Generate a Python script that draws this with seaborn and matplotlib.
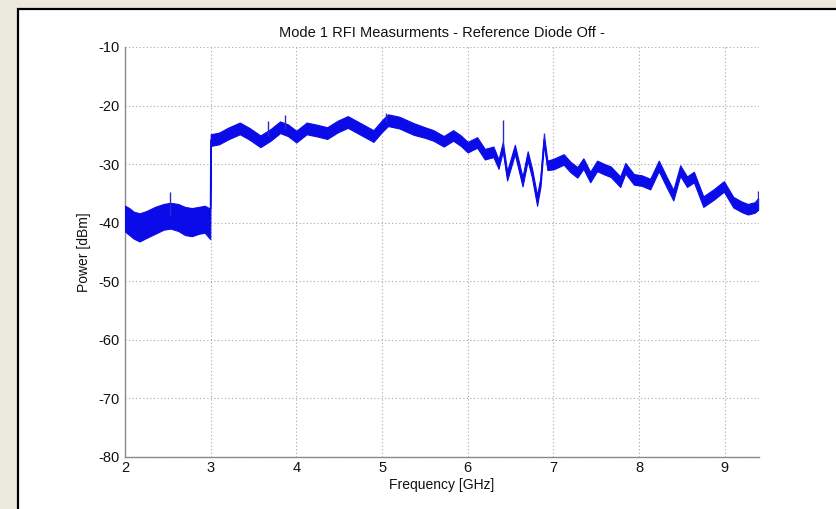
import matplotlib
matplotlib.use("Agg")
import matplotlib.pyplot as plt
from matplotlib.patches import Rectangle
import seaborn as sns
import numpy as np
import pandas as pd

# ---- data (GHz, dBm) ----
freq = [2.00, 2.05, 2.10, 2.17, 2.25, 2.35, 2.45, 2.53, 2.62, 2.70, 2.78, 2.86, 2.93, 2.995,
        3.00, 3.10, 3.20, 3.34, 3.45, 3.58, 3.70, 3.81, 3.90, 4.00, 4.12, 4.25, 4.36, 4.48,
        4.60, 4.75, 4.90, 5.00, 5.07, 5.20, 5.37, 5.50, 5.60, 5.72, 5.83, 5.92, 6.00, 6.11,
        6.20, 6.30, 6.36, 6.41, 6.46, 6.55, 6.64, 6.70, 6.75, 6.81, 6.85, 6.89, 6.93, 7.00,
        7.12, 7.20, 7.28, 7.35, 7.43, 7.51, 7.60, 7.67, 7.78, 7.84, 7.94, 8.03, 8.13, 8.23,
        8.32, 8.40, 8.48, 8.56, 8.64, 8.75, 8.87, 8.99, 9.10, 9.20, 9.27, 9.35, 9.39]
power = [-39.3, -39.8, -40.4, -40.8, -40.3, -39.6, -39.0, -38.8, -39.1, -39.7, -39.9, -39.6, -39.4, -40.2,
         -25.9, -25.6, -24.8, -23.9, -24.8, -26.1, -25.0, -23.7, -24.2, -25.3, -23.9, -24.3, -24.7, -23.6,
         -22.8, -24.0, -25.2, -23.5, -22.5, -22.9, -24.0, -24.6, -25.1, -26.1, -25.1, -26.0, -27.1, -26.3,
         -28.3, -27.9, -30.0, -27.0, -32.0, -27.5, -33.0, -28.6, -31.5, -36.2, -33.0, -25.8, -30.2, -30.0,
         -29.2, -30.5, -31.4, -29.9, -32.2, -30.3, -30.9, -31.3, -33.0, -30.7, -32.6, -32.8, -33.4, -30.3,
         -33.0, -35.3, -31.1, -33.0, -32.2, -36.4, -35.2, -33.8, -36.5, -37.3, -37.7, -37.4, -36.8]
spread = [2.2, 2.3, 2.3, 2.4, 2.3, 2.3, 2.2, 2.2, 2.3, 2.4, 2.4, 2.3, 2.3, 2.6,
          1.0, 1.0, 1.0, 1.0, 1.0, 1.0, 1.0, 1.0, 1.0, 1.0, 1.0, 1.0, 1.0, 1.0,
          1.0, 1.0, 1.0, 1.0, 1.0, 1.0, 1.0, 0.9, 0.9, 0.9, 0.9, 0.9, 0.9, 0.9,
          0.9, 0.9, 0.8, 0.8, 0.8, 0.8, 0.8, 0.8, 0.8, 0.9, 0.8, 0.8, 0.8, 0.9,
          0.9, 0.9, 0.9, 0.9, 0.9, 0.9, 0.9, 0.9, 0.9, 0.9, 0.9, 0.9, 0.9, 0.9,
          0.9, 0.9, 0.9, 0.9, 0.9, 0.9, 0.9, 0.9, 0.9, 0.9, 0.9, 0.9, 1.0]
spike_freq = [2.53, 3.67, 3.87, 5.05, 6.41, 6.89, 9.385]
spike_top = [-34.7, -22.7, -21.6, -21.3, -22.5, -24.6, -34.6]

xticks = [2, 3, 4, 5, 6, 7, 8, 9]
yticks = [-80, -70, -60, -50, -40, -30, -20, -10]
title = "Mode 1 RFI Measurments - Reference Diode Off -"
xlabel = "Frequency [GHz]"
ylabel = "Power [dBm]"

df = pd.DataFrame({"freq": freq, "power": power, "spread": spread})

sns.set_style("white")
plt.rcParams["font.family"] = ["Liberation Sans", "DejaVu Sans"]

W, H = 836, 509
fig = plt.figure(figsize=(W / 100, H / 100), dpi=100, facecolor="#ECE9DF")
fig.patches.append(Rectangle((18 / W, -0.05), 1.2, 1 - 9 / H + 0.05, transform=fig.transFigure,
                             facecolor="white", edgecolor="black", lw=1.6, zorder=-5))
ax = fig.add_axes([125 / W, 1 - 457 / H, (759 - 125) / W, (457 - 47) / H])
ax.set_zorder(2)
ax.set_facecolor("white")

blue = "#0b0bea"
lo = df["power"] - df["spread"]
hi = df["power"] + df["spread"]
ax.fill_between(df["freq"], lo, hi, color=blue, lw=0.8, edgecolor=blue, zorder=3)
sns.lineplot(data=df, x="freq", y="power", ax=ax, color=blue, lw=0.8, zorder=4)
for f, t in zip(spike_freq, spike_top):
    base = float(np.interp(f, df["freq"], df["power"]))
    ax.vlines(f, base, t, color="#2a2ac8", lw=1.0, zorder=4)

ax.set_xlim(2, 9.4)
ax.set_ylim(-80, -10)
ax.set_xticks(xticks)
ax.set_yticks(yticks)
ax.set_xticklabels([str(v) for v in xticks])
ax.set_yticklabels([str(v) for v in yticks])
ax.grid(True, color="#a8a8a8", lw=0.8, linestyle=(0, (1, 2.2)))
ax.set_axisbelow(True)
for s in ["top", "right"]:
    ax.spines[s].set_visible(False)
for s in ["left", "bottom"]:
    ax.spines[s].set_color("#8a8a8a")
    ax.spines[s].set_linewidth(1.0)
ax.tick_params(direction="in", length=4, width=0.8, color="#555555", labelsize=10.5,
               labelcolor="#111111", pad=3)
ax.tick_params(axis="y", pad=4)
ax.set_title(title, fontsize=10.5, pad=7, color="#111111")
ax.set_xlabel(xlabel, fontsize=10, labelpad=2, color="#111111")
ax.set_ylabel(ylabel, fontsize=10, labelpad=5, color="#111111")

fig.savefig("out.png", dpi=100, facecolor=fig.get_facecolor())
